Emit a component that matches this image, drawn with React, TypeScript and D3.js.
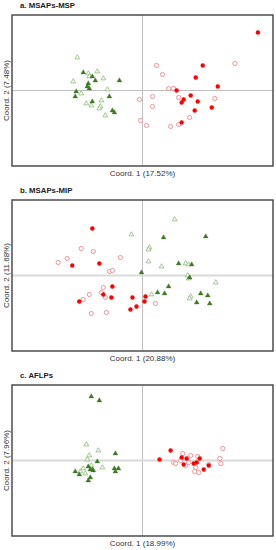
import React from 'react';
import * as d3 from 'd3';

// PCoA scores (x = Coord. 1, y = Coord. 2)
const mspGreenFilled = [
  [-0.59, 0.18], [-0.50, 0.14], [-0.47, 0.10], [-0.23, 0.10], [-0.54, 0.07], [-0.55, 0.04], [-0.53, 0.02],
  [-0.66, -0.01], [-0.33, -0.06], [-0.67, -0.06], [-0.50, -0.11], [-0.30, -0.20], [-0.28, -0.22],
];
const mspGreenOpen = [
  [-0.65, 0.33], [-0.45, 0.19], [-0.54, 0.17], [-0.53, 0.14], [-0.39, 0.12], [-0.69, 0.09], [-0.35, 0.01],
  [-0.61, -0.03], [-0.56, -0.13], [-0.41, -0.10], [-0.51, -0.15], [-0.42, -0.16], [-0.43, -0.18], [-0.37, -0.25],
];
const mspRedFilled = [
  [1.15, 0.58], [0.60, 0.25], [0.53, 0.13], [0.75, 0.04], [0.34, 0.0], [0.48, -0.05], [0.41, -0.09],
  [0.39, -0.12], [0.55, -0.11], [0.69, -0.17], [0.52, -0.20], [0.39, -0.32],
];
const mspRedOpen = [
  [0.92, 0.27], [0.14, 0.25], [0.20, 0.16], [0.26, 0.02], [0.31, 0.02], [-0.03, -0.09], [0.10, -0.06],
  [0.36, -0.07], [0.72, -0.08], [0.10, -0.16], [0.47, -0.27], [-0.02, -0.30], [0.04, -0.35], [0.28, -0.36], [0.36, -0.34],
];

const mipRedFilled = [
  [-0.50, 0.47], [-0.70, 0.10], [-0.43, 0.12], [-0.30, -0.11], [-0.39, -0.19], [-0.31, -0.22], [-0.10, -0.22],
  [-0.63, -0.26], [-0.06, -0.31], [-0.12, -0.34], [0.03, -0.21], [0.02, -0.26],
];
const mipRedOpen = [
  [-0.61, 0.27], [-0.49, 0.24], [-0.22, 0.18], [-0.84, 0.13], [-0.75, 0.17], [-0.33, 0.04], [-0.30, 0.05],
  [-0.39, -0.12], [-0.53, -0.19], [-0.41, -0.17], [-0.37, -0.22], [-0.59, -0.24], [-0.51, -0.38], [-0.36, -0.37], [0.13, -0.28],
];
const mipGreenFilled = [
  [0.21, 0.38], [0.63, 0.39], [0.36, 0.12], [0.49, 0.11], [-0.01, 0.03], [0.47, -0.02], [0.26, -0.11],
  [0.15, -0.17], [0.22, -0.18], [0.58, -0.18], [0.65, -0.20], [0.54, -0.27], [0.67, -0.28],
];
const mipGreenOpen = [
  [-0.11, 0.41], [0.32, 0.56], [0.07, 0.28], [0.06, 0.26], [0.06, 0.14], [0.19, 0.09], [0.43, 0.12],
  [0.46, 0.11], [0.45, 0.0], [0.46, -0.03], [0.73, -0.07], [0.09, -0.19], [0.48, -0.21], [0.47, -0.23],
];

const aflpGreenFilled = [
  [-0.51, 0.64], [-0.43, 0.60], [-0.27, 0.07], [-0.45, -0.01], [-0.54, -0.06], [-0.52, -0.09], [-0.50, -0.09],
  [-0.49, -0.10], [-0.67, -0.11], [-0.63, -0.14], [-0.28, -0.08], [-0.24, -0.08], [-0.27, -0.11], [-0.52, -0.17], [-0.54, -0.20],
];
const aflpGreenOpen = [
  [-0.56, 0.16], [-0.44, 0.10], [-0.53, 0.05], [-0.55, 0.01], [-0.51, -0.05], [-0.40, -0.07], [-0.59, -0.08],
  [-0.62, -0.11], [-0.57, -0.13],
];
const aflpRedFilled = [
  [0.28, 0.10], [0.17, 0.01], [0.39, 0.03], [0.44, 0.02], [0.57, 0.02], [0.41, -0.04], [0.51, -0.03],
  [0.54, -0.02], [0.66, -0.05], [0.61, -0.09],
];
const aflpRedOpen = [
  [0.80, 0.12], [0.40, 0.07], [0.48, 0.05], [0.55, 0.04], [0.77, 0.02], [0.38, 0.0], [0.31, -0.02],
  [0.33, -0.03], [0.46, -0.02], [0.43, -0.05], [0.78, -0.03], [0.66, -0.04], [0.53, -0.07], [0.52, -0.11], [0.56, -0.12],
];

const titles = ['a. MSAPs-MSP', 'b. MSAPs-MIP', 'c. AFLPs'];
const xLabels = ['Coord. 1 (17.52%)', 'Coord. 1 (20.88%)', 'Coord. 1 (18.99%)'];
const yLabels = ['Coord. 2 (7.48%)', 'Coord. 2 (11.68%)', 'Coord. 2 (7.96%)'];

const panels = [
  { gf: mspGreenFilled, go: mspGreenOpen, rf: mspRedFilled, ro: mspRedOpen },
  { gf: mipGreenFilled, go: mipGreenOpen, rf: mipRedFilled, ro: mipRedOpen },
  { gf: aflpGreenFilled, go: aflpGreenOpen, rf: aflpRedFilled, ro: aflpRedOpen },
];

const W = 276;
const H = 550;
const left = 12;
const right = 273;
const tops = [15, 200, 385];
const boxH = 151;
const font = '"Liberation Sans", Arial, sans-serif';

const tri = d3.symbol().type(d3.symbolTriangle).size(10)();

const Panel = ({ i }: { i: number }) => {
  const top = tops[i];
  const p = panels[i];
  const x = d3.scaleLinear().domain([-1.3, 1.3]).range([left, right]);
  const y = d3.scaleLinear().domain([-0.755, 0.755]).range([top + boxH, top]);
  const thickH = i > 0;
  return (
    <g>
      <text x={20} y={top - 7} fontFamily={font} fontWeight="bold" fontSize={7.8} fill="#222">{titles[i]}</text>
      <line x1={x(0)} x2={x(0)} y1={top} y2={top + boxH} stroke="#bfbfbf" strokeWidth={1} />
      <line x1={left} x2={right} y1={y(0)} y2={y(0)} stroke={thickH ? '#d9d9d9' : '#bfbfbf'} strokeWidth={thickH ? 2 : 1} />
      <rect x={left} y={top} width={right - left} height={boxH} fill="none" stroke="#4d4d4d" strokeWidth={1.5} />
      {p.go.map((d, k) => (
        <path key={'go' + k} d={tri} transform={`translate(${x(d[0])},${y(d[1])})`} fill="white" stroke="#8cb878" strokeWidth={0.8} />
      ))}
      {p.gf.map((d, k) => (
        <path key={'gf' + k} d={tri} transform={`translate(${x(d[0])},${y(d[1])})`} fill="#3d7a22" stroke="#3d7a22" strokeWidth={0.4} />
      ))}
      {p.ro.map((d, k) => (
        <circle key={'ro' + k} cx={x(d[0])} cy={y(d[1])} r={2.1} fill="white" stroke="#f2878a" strokeWidth={0.9} />
      ))}
      {p.rf.map((d, k) => (
        <circle key={'rf' + k} cx={x(d[0])} cy={y(d[1])} r={2.2} fill="#ff0000" />
      ))}
      <text x={x(0)} y={top + boxH + 10} textAnchor="middle" fontFamily={font} fontSize={8} fill="#333">{xLabels[i]}</text>
      <text transform={`translate(8.8,${top + boxH / 2}) rotate(-90)`} textAnchor="middle" fontFamily={font} fontSize={8} fill="#333">{yLabels[i]}</text>
    </g>
  );
};

export default function App() {
  return (
    <svg width={W} height={H} style={{ position: 'absolute', left: 0, top: 0, background: 'white' }}>
      {[0, 1, 2].map(i => <Panel key={i} i={i} />)}
    </svg>
  );
}
